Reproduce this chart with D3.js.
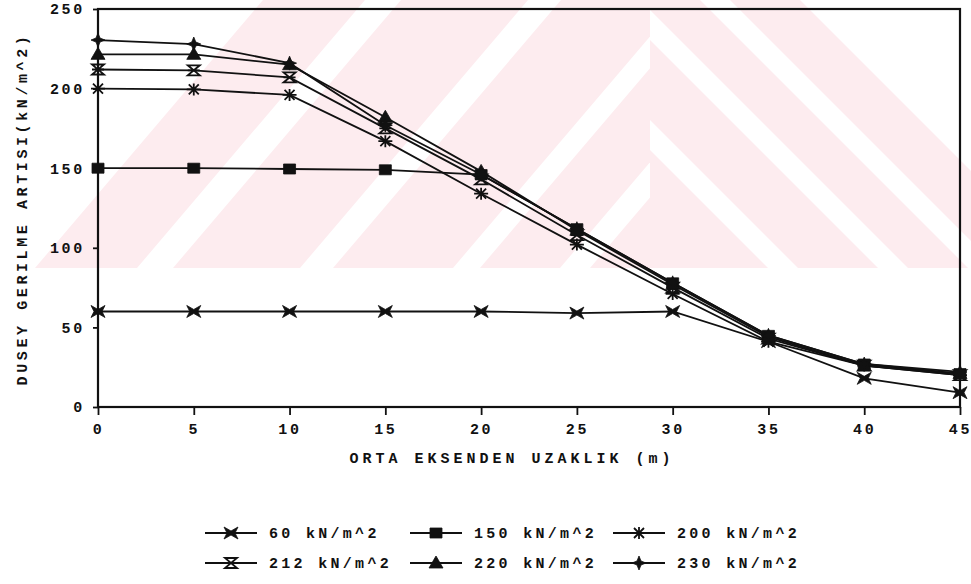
<!DOCTYPE html>
<html>
<head>
<meta charset="utf-8">
<script src="https://cdn.jsdelivr.net/npm/d3@7/dist/d3.min.js"></script>
<style>
  html, body { margin: 0; padding: 0; background: #fff; }
  svg text { font-family: "Liberation Mono", "DejaVu Sans Mono", monospace; font-weight: bold; fill: #111; }
</style>
</head>
<body>
<svg id="chart" width="971" height="584"></svg>
<script>
// Distance from the centre axis (m)
const distances = [0, 5, 10, 15, 20, 25, 30, 35, 40, 45];

// Vertical stress increase (kN/m^2) for each surface load
const load60  = [60, 60, 60, 60, 60, 59, 60, 41, 18, 9];
const load150 = [150, 150, 149.5, 149, 146, 112, 78, 45, 27, 21];
const load200 = [200, 199.5, 196, 167, 134, 102, 71, 41, 26, 20];
const load212 = [212, 211.5, 207, 175, 143, 108, 75, 43, 26, 20];
const load220 = [221.5, 221.5, 215, 182, 148, 111, 77, 44, 26, 21];
const load230 = [230.5, 228, 216, 177, 146, 112, 78, 45, 27, 22];

const seriesNames = ["60 kN/m^2", "150 kN/m^2", "200 kN/m^2", "212 kN/m^2", "220 kN/m^2", "230 kN/m^2"];
const seriesValues = [load60, load150, load200, load212, load220, load230];
const markerKinds = ["bowtie", "square", "asterisk", "hourglass", "triangle", "plus"];

const xTicks = [0, 5, 10, 15, 20, 25, 30, 35, 40, 45];
const yTicks = [0, 50, 100, 150, 200, 250];

const xTitle = "ORTA EKSENDEN UZAKLIK (m)";
const yTitle = "DUSEY GERILME ARTISI(kN/m^2)";

const svg = d3.select("#chart");
const ink = "#111";

const x = d3.scaleLinear().domain([0, 45]).range([98, 960]);
const y = d3.scaleLinear().domain([0, 250]).range([407, 9]);

// Faint pink striped background emblem
const emblem = svg.append("g").attr("fill", "#fdecef");
const defs = svg.append("defs");
defs.append("clipPath").attr("id", "clipLeft")
  .append("rect").attr("x", 30).attr("y", 0).attr("width", 620).attr("height", 268);
defs.append("clipPath").attr("id", "clipRight")
  .append("rect").attr("x", 650).attr("y", 0).attr("width", 321).attr("height", 268);
const slash = [[35, 137], [173, 300], [333, 453], [480, 560], [590, 680]];
emblem.append("g").attr("clip-path", "url(#clipLeft)")
  .selectAll("path").data(slash).join("path")
  .attr("d", d => `M${d[0]},268 L${d[1]},268 L${d[1] + 228},0 L${d[0] + 228},0 Z`);
const backslash = [[380, 500], [530, 610], [640, 700], [730, 800]];
emblem.append("g").attr("clip-path", "url(#clipRight)")
  .selectAll("path").data(backslash).join("path")
  .attr("d", d => `M${d[0]},0 L${d[1]},0 L${d[1] + 268},268 L${d[0] + 268},268 Z`);

// Axes
const yAxis = d3.axisLeft(y).tickValues(yTicks).tickSize(5).tickPadding(8);
const xAxis = d3.axisBottom(x).tickValues(xTicks).tickSize(8).tickPadding(8);

const gy = svg.append("g").attr("transform", `translate(${x(0)},0)`).call(yAxis);
const gx = svg.append("g").attr("transform", `translate(0,${y(0)})`).call(xAxis);
[gx, gy].forEach(g => {
  g.select(".domain").remove();
  g.selectAll(".tick line").attr("stroke", ink).attr("stroke-width", 1.8);
  g.selectAll(".tick text").attr("font-size", 15).attr("letter-spacing", 2.7)
    .attr("fill", ink).style("font-family", "Liberation Mono").style("font-weight", "bold");
});

// Plot frame
svg.append("rect")
  .attr("x", x(0)).attr("y", y(250))
  .attr("width", x(45) - x(0)).attr("height", y(0) - y(250))
  .attr("fill", "none").attr("stroke", ink).attr("stroke-width", 2.2);

// Axis titles
svg.append("text")
  .attr("x", 512).attr("y", 463)
  .attr("text-anchor", "middle").attr("font-size", 15).attr("letter-spacing", 4)
  .text(xTitle);
svg.append("text")
  .attr("transform", `translate(27,${209}) rotate(-90)`)
  .attr("text-anchor", "middle").attr("font-size", 15).attr("letter-spacing", 3.6)
  .text(yTitle);

// Marker shapes
function markerPath(kind) {
  switch (kind) {
    case "bowtie":    return "M-7,-6 L0,-2 L7,-6 L4,0 L7,6 L0,2 L-7,6 L-4,0 Z";
    case "square":    return "M-6,-5 H6 V5 H-6 Z";
    case "asterisk":  return "M-7,0 H7 M-5,-5 L5,5 M-5,5 L5,-5 M0,-6 V6";
    case "hourglass": return "M-6,-5 H6 L-6,5 H6 Z M-6,0 H6";
    case "triangle":  return "M0,-7 L7,5 L-7,5 Z";
    case "plus":      return "M0,-7 L2,-2 L7,0 L2,2 L0,7 L-2,2 L-7,0 L-2,-2 Z";
  }
}
function styleMarker(sel, kind) {
  const stroked = kind === "asterisk" || kind === "hourglass";
  sel.attr("d", markerPath(kind))
    .attr("fill", stroked ? "none" : ink)
    .attr("stroke", ink)
    .attr("stroke-width", stroked ? 1.8 : 0.8);
}

// Series lines and markers
const line = d3.line().x((d, i) => x(distances[i])).y(d => y(d));
seriesValues.forEach((vals, s) => {
  const g = svg.append("g");
  g.append("path").datum(vals).attr("d", line)
    .attr("fill", "none").attr("stroke", ink).attr("stroke-width", 1.8);
  g.selectAll("path.m").data(vals).join("path").attr("class", "m")
    .attr("transform", (d, i) => `translate(${x(distances[i])},${y(d)})`)
    .call(sel => styleMarker(sel, markerKinds[s]));
});

// Legend
const legCols = [205, 410, 613];
const legRows = [533, 563];
seriesNames.forEach((name, s) => {
  const cx = legCols[s % 3], cy = legRows[Math.floor(s / 3)];
  const g = svg.append("g");
  g.append("line").attr("x1", cx).attr("x2", cx + 52).attr("y1", cy).attr("y2", cy)
    .attr("stroke", ink).attr("stroke-width", 1.8);
  g.append("path").attr("transform", `translate(${cx + 26},${cy})`)
    .call(sel => styleMarker(sel, markerKinds[s]));
  g.append("text").attr("x", cx + 64).attr("y", cy).attr("dy", "0.35em")
    .attr("font-size", 15).attr("letter-spacing", 3.3).text(name);
});
</script>
</body>
</html>
